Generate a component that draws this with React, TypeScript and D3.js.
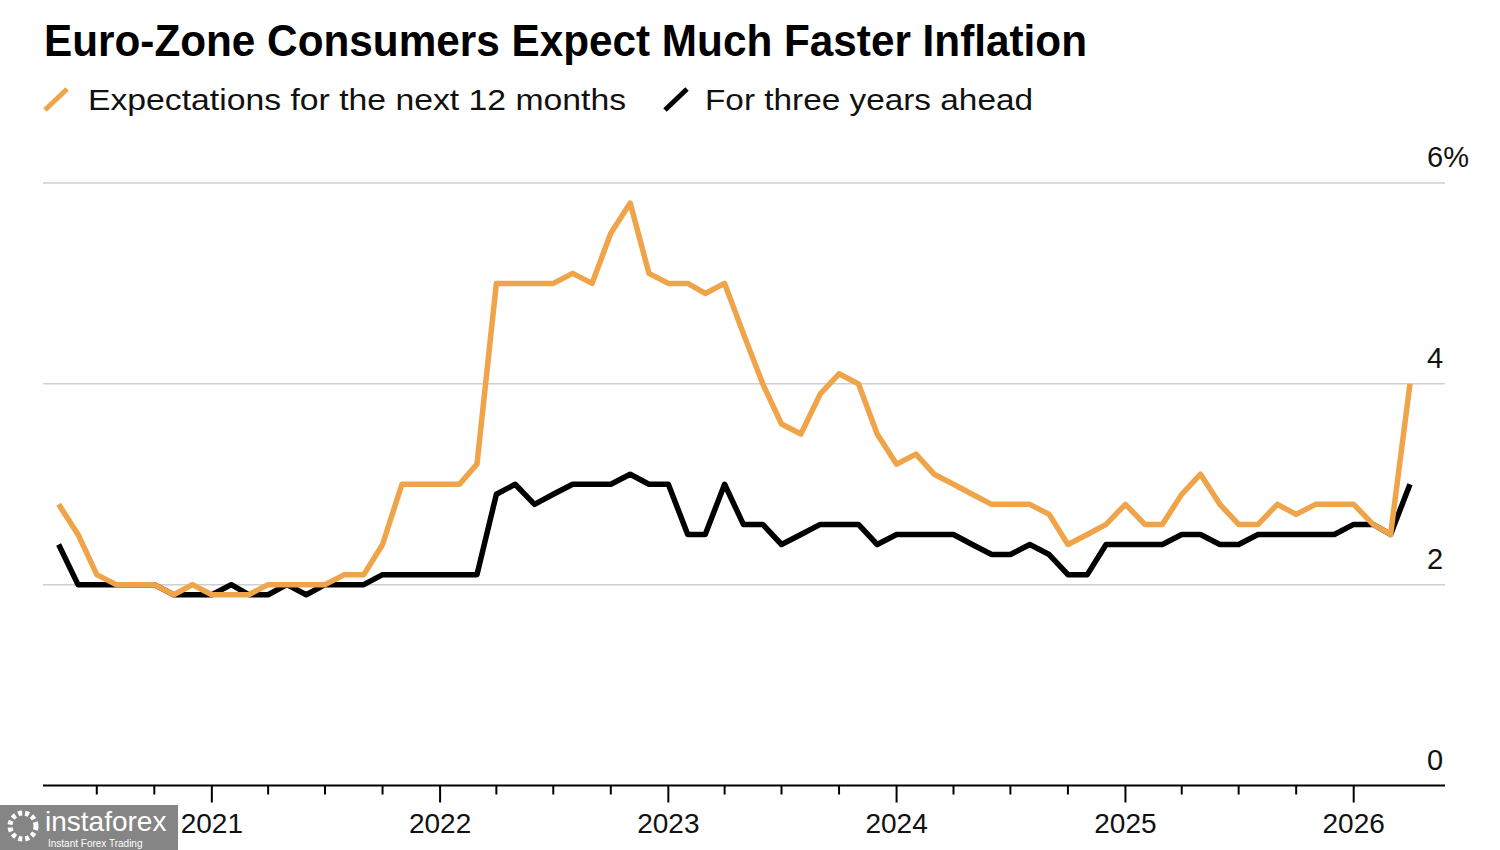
import React, { useEffect, useRef } from 'react';
import * as d3 from 'd3';

// monthly survey readings, May 2020 .. Apr 2026
const firstMonth = new Date(2020, 4, 1);

const nextTwelveMonths = [
  2.8, 2.5, 2.1, 2.0, 2.0, 2.0, 1.9, 2.0,
  1.9, 1.9, 1.9, 2.0, 2.0, 2.0, 2.0, 2.1, 2.1, 2.4, 3.0, 3.0,
  3.0, 3.0, 3.2, 5.0, 5.0, 5.0, 5.0, 5.1, 5.0, 5.5, 5.8, 5.1,
  5.0, 5.0, 4.9, 5.0, 4.5, 4.0, 3.6, 3.5, 3.9, 4.1, 4.0, 3.5,
  3.2, 3.3, 3.1, 3.0, 2.9, 2.8, 2.8, 2.8, 2.7, 2.4, 2.5, 2.6,
  2.8, 2.6, 2.6, 2.9, 3.1, 2.8, 2.6, 2.6, 2.8, 2.7, 2.8, 2.8,
  2.8, 2.6, 2.5, 4.0,
];

const threeYearsAhead = [
  2.4, 2.0, 2.0, 2.0, 2.0, 2.0, 1.9, 1.9,
  1.9, 2.0, 1.9, 1.9, 2.0, 1.9, 2.0, 2.0, 2.0, 2.1, 2.1, 2.1,
  2.1, 2.1, 2.1, 2.9, 3.0, 2.8, 2.9, 3.0, 3.0, 3.0, 3.1, 3.0,
  3.0, 2.5, 2.5, 3.0, 2.6, 2.6, 2.4, 2.5, 2.6, 2.6, 2.6, 2.4,
  2.5, 2.5, 2.5, 2.5, 2.4, 2.3, 2.3, 2.4, 2.3, 2.1, 2.1, 2.4,
  2.4, 2.4, 2.4, 2.5, 2.5, 2.4, 2.4, 2.5, 2.5, 2.5, 2.5, 2.5,
  2.6, 2.6, 2.5, 3.0,
];

const seriesNames = ['Expectations for the next 12 months', 'For three years ahead'];
const seriesColors = ['#EFA449', '#000000'];
const yTicks = [0, 2, 4, 6];

const FONT = '"Liberation Sans", Arial, Helvetica, sans-serif';

const App: React.FC = () => {
  const chartRef = useRef<HTMLDivElement | null>(null);

  useEffect(() => {
    if (!chartRef.current) return;
    document.body.style.margin = '0';

    d3.select(chartRef.current).selectAll('*').remove();

    const svg = d3.select(chartRef.current)
      .append('svg')
      .attr('width', 1500)
      .attr('height', 850)
      .style('display', 'block')
      .style('background', '#fff')
      .attr('font-family', FONT);

    const left = 43;
    const right = 1445;

    const x = d3.scaleTime()
      .domain([new Date(2020, 3, 6), new Date(2026, 4, 27)])
      .range([left, right]);

    const y = d3.scaleLinear()
      .domain([0, 6])
      .range([785.5, 183]);

    const months = d3.timeMonth.range(firstMonth, d3.timeMonth.offset(firstMonth, nextTwelveMonths.length));

    // title
    svg.append('text')
      .attr('x', 44)
      .attr('y', 56)
      .attr('font-size', 44)
      .attr('font-weight', 'bold')
      .attr('textLength', 1043)
      .attr('lengthAdjust', 'spacingAndGlyphs')
      .attr('fill', '#000')
      .text('Euro-Zone Consumers Expect Much Faster Inflation');

    // legend
    const legend = [
      { x: 45, textX: 88, width: 538 },
      { x: 665, textX: 705, width: 328 },
    ];
    legend.forEach((l, i) => {
      svg.append('line')
        .attr('x1', l.x).attr('y1', 110)
        .attr('x2', l.x + 22).attr('y2', 89)
        .attr('stroke', seriesColors[i])
        .attr('stroke-width', 5);
      svg.append('text')
        .attr('x', l.textX)
        .attr('y', 110)
        .attr('font-size', 29)
        .attr('textLength', l.width)
        .attr('lengthAdjust', 'spacingAndGlyphs')
        .attr('fill', '#111')
        .text(seriesNames[i]);
    });

    // gridlines + y labels
    const g = svg.append('g');
    g.selectAll('line.grid')
      .data(yTicks.filter(t => t > 0))
      .enter()
      .append('line')
      .attr('class', 'grid')
      .attr('x1', left).attr('x2', right)
      .attr('y1', d => y(d)).attr('y2', d => y(d))
      .attr('stroke', '#cfcfcf')
      .attr('stroke-width', 1.5);

    g.selectAll('text.ylab')
      .data(yTicks)
      .enter()
      .append('text')
      .attr('class', 'ylab')
      .attr('x', 1427)
      .attr('y', d => y(d) - 16)
      .attr('font-size', 29)
      .attr('fill', '#111')
      .text(d => (d === 6 ? '6%' : String(d)));

    // x axis
    g.append('line')
      .attr('x1', left).attr('x2', right)
      .attr('y1', y(0)).attr('y2', y(0))
      .attr('stroke', '#000')
      .attr('stroke-width', 2);

    const quarters = d3.timeMonth.every(3)!.range(new Date(2020, 6, 1), new Date(2026, 0, 2));
    g.selectAll('line.tick')
      .data(quarters)
      .enter()
      .append('line')
      .attr('class', 'tick')
      .attr('x1', d => x(d)).attr('x2', d => x(d))
      .attr('y1', y(0))
      .attr('y2', d => y(0) + (d.getMonth() === 0 ? 17 : 9))
      .attr('stroke', '#000')
      .attr('stroke-width', 2);

    g.selectAll('text.year')
      .data(quarters.filter(d => d.getMonth() === 0))
      .enter()
      .append('text')
      .attr('class', 'year')
      .attr('x', d => x(d))
      .attr('y', 833)
      .attr('text-anchor', 'middle')
      .attr('font-size', 28)
      .attr('fill', '#111')
      .text(d => d3.timeFormat('%Y')(d));

    // series
    const line = d3.line<number>()
      .x((_, i) => x(months[i]))
      .y(d => y(d));

    [threeYearsAhead, nextTwelveMonths].forEach((values, k) => {
      g.append('path')
        .datum(values)
        .attr('fill', 'none')
        .attr('stroke', k === 0 ? seriesColors[1] : seriesColors[0])
        .attr('stroke-width', 5.5)
        .attr('stroke-linejoin', 'round')
        .attr('d', line);
    });

    // watermark box in the corner
    const wm = svg.append('g');
    wm.append('rect')
      .attr('x', 0).attr('y', 805)
      .attr('width', 178).attr('height', 45)
      .attr('fill', '#858585');
    wm.append('circle')
      .attr('cx', 23).attr('cy', 826)
      .attr('r', 13)
      .attr('fill', 'none')
      .attr('stroke', '#fff')
      .attr('stroke-width', 5)
      .attr('stroke-dasharray', '4 3');
    wm.append('text')
      .attr('x', 45).attr('y', 831)
      .attr('font-size', 28)
      .attr('fill', '#fff')
      .text('instaforex');
    wm.append('text')
      .attr('x', 48).attr('y', 847)
      .attr('font-size', 10)
      .attr('fill', '#fff')
      .text('Instant Forex Trading');
  }, []);

  return <div id="chart" ref={chartRef}></div>;
};

export default App;
